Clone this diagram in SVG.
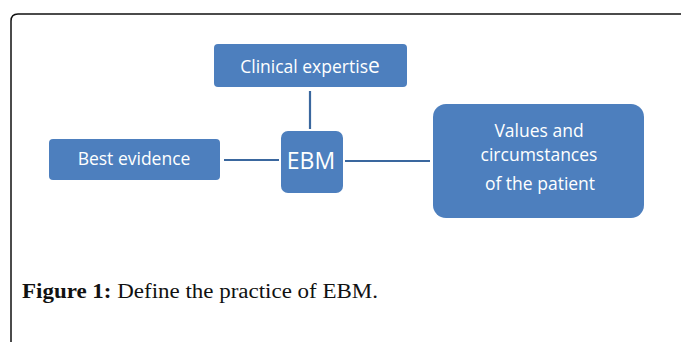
<svg xmlns="http://www.w3.org/2000/svg" width="681" height="342" viewBox="0 0 681 342">
<style>
.box{fill:#4d7fbe;}
.lbl{fill:#ffffff;font-family:"Open Sans","Liberation Sans",sans-serif;text-anchor:middle;font-size:17.5px;}
.big{font-size:23px;}
.con{stroke:#3a679e;stroke-width:2.2;fill:none;}
.cap{font-family:"Liberation Serif","DejaVu Serif",serif;font-size:20px;fill:#111;}
</style>
<rect width="681" height="342" fill="#ffffff"/>
<path d="M11,342 V21 Q11,14 18,14 H681" fill="none" stroke="#111" stroke-width="1.5"/>
<g id="connectors">
<line class="con" x1="310" y1="91" x2="310" y2="129"/>
<line class="con" x1="224" y1="160" x2="279" y2="160"/>
<line class="con" x1="345" y1="161" x2="430" y2="161"/>
</g>
<g id="clinical">
<rect class="box" x="214" y="44" width="193" height="43" rx="4"/>
<text class="lbl" x="310" y="73">Clinical expertis<tspan style="font-size:21px">e</tspan></text>
</g>
<g id="best">
<rect class="box" x="49" y="139" width="171" height="41" rx="4"/>
<text class="lbl" x="134" y="164.5">Best evidence</text>
</g>
<g id="ebm">
<rect class="box" x="281" y="131" width="62" height="62" rx="7"/>
<text class="lbl big" x="311" y="169">EBM</text>
</g>
<g id="values">
<rect class="box" x="433" y="104" width="211" height="114" rx="13"/>
<text class="lbl" x="539" y="137">Values and</text>
<text class="lbl" x="539" y="161">circumstances</text>
<text class="lbl" x="540" y="190">of the patient</text>
</g>
<text class="cap" x="22" y="298" textLength="356" lengthAdjust="spacingAndGlyphs"><tspan font-weight="bold">Figure 1:</tspan> Define the practice of EBM.</text>
</svg>
